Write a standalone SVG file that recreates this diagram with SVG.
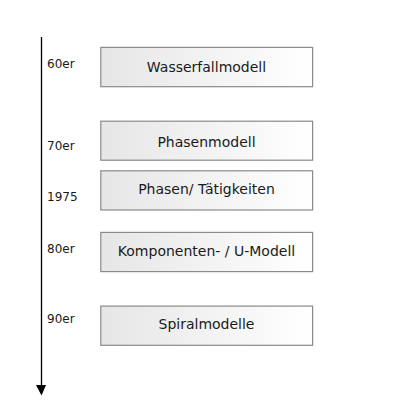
<svg xmlns="http://www.w3.org/2000/svg" width="420" height="420" viewBox="0 0 420 420">
<style>
.box{stroke:#8a8a8a;stroke-width:1.2;fill:url(#g)}
.bt{font-family:"DejaVu Sans",sans-serif;font-size:14px;fill:#1a1a1a;text-anchor:middle}
.lt{font-family:"DejaVu Sans",sans-serif;font-size:12px;fill:#1a1a1a}
</style>
<defs>
<linearGradient id="g" x1="0" y1="0" x2="1" y2="0">
<stop offset="0" stop-color="#e6e6e6"/>
<stop offset="1" stop-color="#ffffff"/>
</linearGradient>
<marker id="ah" markerWidth="10" markerHeight="10" refX="5" refY="10" orient="auto" markerUnits="userSpaceOnUse" viewBox="0 0 10 10">
<path d="M0,0 L10,0 L5,10 Z" fill="#000"/>
</marker>
</defs>
<rect width="420" height="420" fill="#fff"/>
<g id="connectors">
<line x1="41.5" y1="37" x2="41.5" y2="385" stroke="#000" stroke-width="1.3"/>
<path d="M36,385 L46,385 L41.5,395.5 Z" fill="#000"/>
</g>
<g id="labels">
<text class="lt" x="47" y="68">60er</text>
<text class="lt" x="47" y="150">70er</text>
<text class="lt" x="47" y="201">1975</text>
<text class="lt" x="47" y="253">80er</text>
<text class="lt" x="47" y="322.5">90er</text>
</g>
<g id="n1"><rect class="box" x="100.8" y="47.4" width="211.8" height="39.3"/><text class="bt" x="206.5" y="72.3">Wasserfallmodell</text></g>
<g id="n2"><rect class="box" x="100.8" y="121.2" width="211.8" height="39"/><text class="bt" x="206.5" y="146.7">Phasenmodell</text></g>
<g id="n3"><rect class="box" x="100.8" y="170.8" width="211.8" height="39.2"/><text class="bt" x="206.5" y="194.3">Phasen/ Tätigkeiten</text></g>
<g id="n4"><rect class="box" x="100.8" y="232.4" width="211.8" height="39.2"/><text class="bt" x="206.5" y="256">Komponenten- / U-Modell</text></g>
<g id="n5"><rect class="box" x="100.8" y="306.1" width="211.8" height="39.2"/><text class="bt" x="206.5" y="329">Spiralmodelle</text></g>
</svg>
